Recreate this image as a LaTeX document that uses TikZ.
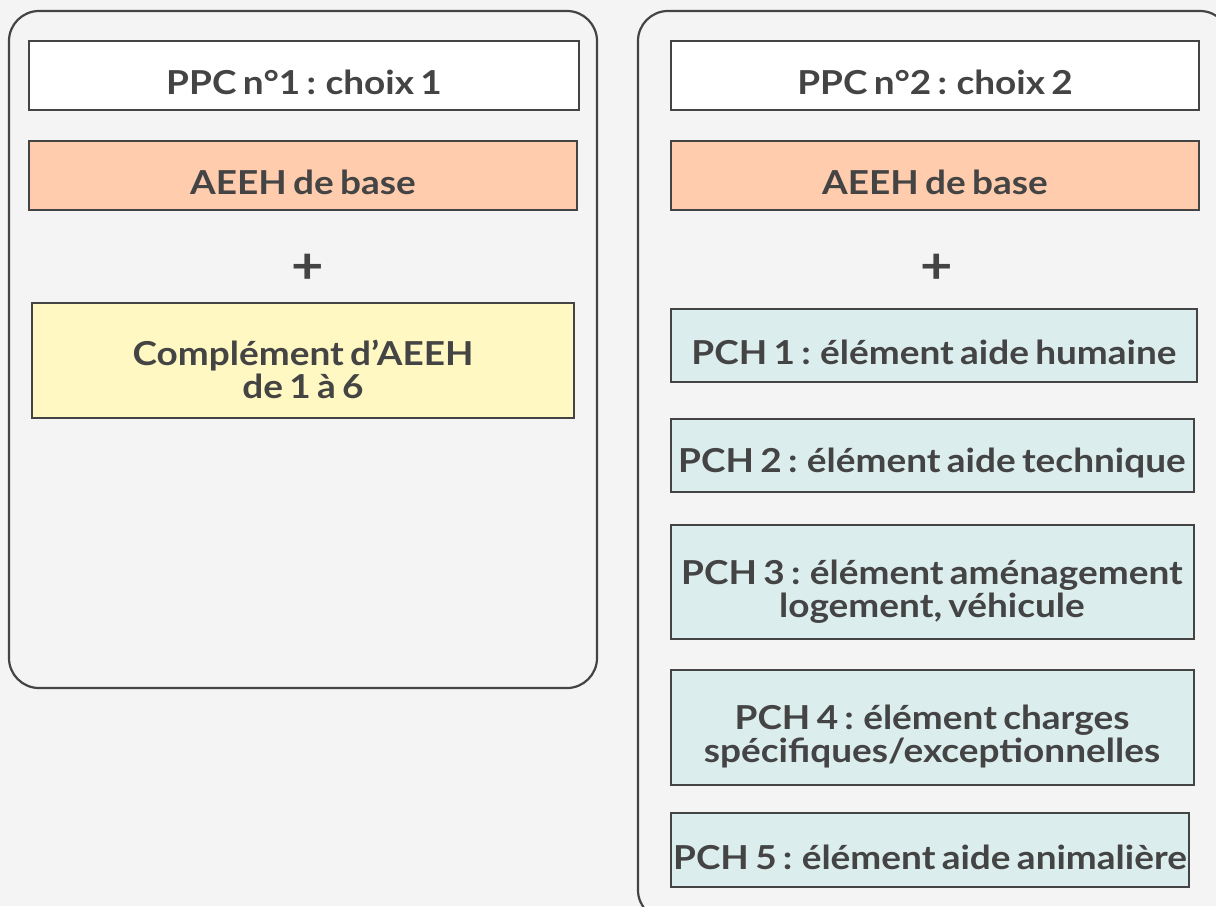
\documentclass[tikz,border=0pt]{standalone}
\usepackage{fontspec}
\setmainfont[FakeStretch=1.12,WordSpace=0.7]{Lato}
\definecolor{bg}{HTML}{F4F4F4}
\definecolor{ink}{HTML}{444444}
\definecolor{peach}{HTML}{FFCDAE}
\definecolor{lemon}{HTML}{FFF8C2}
\definecolor{mint}{HTML}{DCEDED}
\tikzset{
  panel/.style={draw=ink, line width=2.2pt, rounded corners=30pt},
  boxsq/.style={draw=ink, line width=2.2pt},
  lbl/.style={text=ink, font=\fontsize{33}{33}\selectfont\bfseries, align=center, inner sep=0pt},
  plus/.style={text=ink, font=\fontsize{50}{50}\selectfont\bfseries, inner sep=0pt},
}
\begin{document}
\begin{tikzpicture}[x=1pt,y=-1pt]
\useasboundingbox (0,0) rectangle (1216,906);
\fill[bg] (0,0) rectangle (1216,906);
% panels
\draw[panel] (9,11) rectangle (597,688);
\draw[panel] (638,11) rectangle (1230,920);
% left column
\draw[boxsq, fill=white] (29,41) rectangle (579,110);
\node[lbl] (l1) at (304,82) {PPC n°1 : choix 1};
\draw[boxsq, fill=peach] (29,141) rectangle (577,210);
\node[lbl] (l2) at (303,182) {AEEH de base};
\node[plus] (lp) at (308,269) {+};
\draw[boxsq, fill=lemon] (32,303) rectangle (574,418);
\node[lbl] (l3) at (303,369) {Complément d’AEEH\\de 1 à 6};
% right column
\draw[boxsq, fill=white] (671,41) rectangle (1199,110);
\node[lbl] (r1) at (935,82) {PPC n°2 : choix 2};
\draw[boxsq, fill=peach] (671,141) rectangle (1199,210);
\node[lbl] (r2) at (935,182) {AEEH de base};
\node[plus] (rp) at (937,269) {+};
\draw[boxsq, fill=mint] (671,309) rectangle (1197,382);
\node[lbl] (p1) at (934,352) {PCH 1 : élément aide humaine};
\draw[boxsq, fill=mint] (671,419) rectangle (1194,492);
\node[lbl] (p2) at (932,463) {PCH 2 : élément aide technique};
\draw[boxsq, fill=mint] (671,525) rectangle (1194,639);
\node[lbl] (p3) at (932,592) {PCH 3 : élément aménagement\\logement, véhicule};
\draw[boxsq, fill=mint] (671,670) rectangle (1194,785);
\node[lbl] (p4) at (932,736) {PCH 4 : élément charges\\spécifiques/exceptionnelles};
\draw[boxsq, fill=mint] (671,813) rectangle (1189,887);
\node[lbl] (p5) at (930,857) {PCH 5 : élément aide animalière};
\end{tikzpicture}
\end{document}
